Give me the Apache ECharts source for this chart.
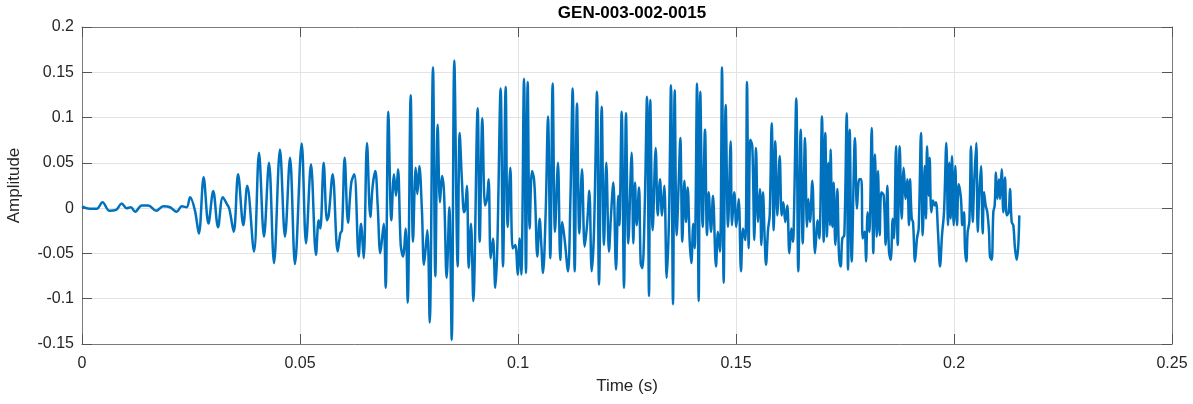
<!DOCTYPE html>
<html>
<head>
<meta charset="utf-8">
<script src="https://cdn.jsdelivr.net/npm/echarts@6/dist/echarts.min.js"></script>
<style>
html,body{margin:0;padding:0;background:#fff;}
#chart{width:1193px;height:404px;}
</style>
</head>
<body>
<div id="chart"></div>
<script>
const chartTitle = 'GEN-003-002-0015';
const xAxisLabel = 'Time (s)';
const yAxisLabel = 'Amplitude';
const xTicks = [0, 0.05, 0.1, 0.15, 0.2, 0.25];
const yTicks = [-0.15, -0.1, -0.05, 0, 0.05, 0.1, 0.15, 0.2];

const timeS = [
0,0.0018,0.0034,0.0047,0.0063,0.0078,0.0091,0.01025,0.0112,0.0122,0.0137,0.0152,0.0170,0.01865,0.0202,0.0217,0.0229,0.0240,0.0248,0.0259,0.0268,0.0279,0.0290,0.0301,0.0312,0.0323,0.0333,0.0338,0.0348,0.0358,
0.0370,0.0379,0.03945,0.0406,0.04174,0.04289,0.04404,0.04541,0.04656,0.04771,0.04885,0.05039,0.05138,0.05252,
0.05367,0.05428,0.05466,0.05543,0.05619,0.05658,0.0575,0.05864,0.05925,0.05963,0.06025,0.06101,0.06177,0.06246,0.06346,0.06399,0.0646,0.06537,0.06613,0.06667,0.06728,0.06782,0.06842,0.0692,
0.06965,0.07026,0.07095,0.07156,0.07202,0.07248,0.0731,0.07362,0.07424,0.0747,0.07539,0.07592,0.07653,0.07691,0.07737,0.07798,0.07844,0.0792,0.07975,0.0805,0.08104,0.08158,0.08211,0.08257,0.08303,0.08364,0.08425,0.0848,0.08539,
0.08616,0.08662,0.08716,0.08761,0.08784,0.0883,0.08869,0.08922,0.08975,0.09075,0.09121,0.09182,0.09243,0.09289,0.09327,0.09373,0.09427,0.09479,0.09525,0.09602,0.09656,0.09717,0.09763,0.09824,0.09878,0.09938,0.09993,0.10039,0.10076,0.10138,0.10183,0.10222,
0.10268,0.10321,0.10367,0.10398,0.10443,0.10497,0.10535,0.10573,0.10635,0.10688,0.10741,0.10795,0.10849,0.10917,0.1097,0.11016,0.11071,0.11147,0.112,0.11254,0.113,0.11353,0.11407,0.11468,0.11529,0.11583,0.11636,0.1169,0.11743,0.11812,0.11858,
0.1192,0.11972,0.12025,0.12087,0.12133,0.12186,0.12248,0.12301,0.12324,0.12378,0.12431,0.12477,0.1253,0.12607,0.12645,0.12683,0.12722,0.12775,0.12814,0.12851,0.12906,0.12959,0.13005,0.13034,0.13089,0.13158,0.13204,0.13257,0.13303,0.13356,0.1341,0.13463,0.13509,
0.13555,0.13594,0.1364,0.13686,0.13723,0.13769,0.13815,0.13853,0.13892,0.13938,0.13975,0.14021,0.14053,0.14106,0.14144,0.14181,0.14236,0.14289,0.14335,0.14374,0.14427,0.14472,0.14541,0.14587,0.14633,0.14679,0.14717,0.14763,0.14817,0.14878,0.14908,0.14961,0.15007,0.15062,0.15115,0.15161,
0.15214,0.15252,0.15291,0.15328,0.15374,0.1542,0.15459,0.15505,0.1555,0.15581,0.15619,0.15658,0.15688,0.15734,0.15773,0.15819,0.15865,0.15902,0.15947,0.16002,0.16048,0.16085,0.16131,0.16177,0.16223,0.16269,0.16307,0.1633,0.16383,0.16429,0.16484,0.1653,0.16583,0.16628,0.16659,0.16697,0.1675,0.16812,
0.16873,0.16911,0.16972,0.17011,0.17048,0.17087,0.17117,0.17156,0.17171,0.17209,0.1724,0.17278,0.17324,0.17362,0.17401,0.17438,0.17484,0.17539,0.17569,0.17608,0.17653,0.17729,0.17775,0.17828,0.17874,0.17906,0.17952,0.17982,0.1802,0.18058,0.18112,0.18149,0.18188,0.18227,0.18257,0.18296,0.18333,0.18388,0.18433,0.1847,
0.18509,0.18548,0.18594,0.18624,0.1867,0.18709,0.18755,0.188,0.18846,0.18892,0.18929,0.18968,0.18991,0.1903,0.1906,0.19106,0.19151,0.1919,0.19243,0.19282,0.19328,0.19358,0.19381,0.19419,0.19442,0.19479,0.19518,0.19557,0.19587,0.19633,0.19679,0.19725,0.19771,0.19824,0.19862,0.19892,0.19924,0.19954,0.19993,0.2003,0.20069,0.20108,
0.2016,0.20191,0.20229,0.20252,0.20283,0.20313,0.20352,0.2039,0.20429,0.20466,0.20511,0.20544,0.20581,0.2062,0.20658,0.20688,0.20727,0.20764,0.20803,0.20826,0.20865,0.20902,0.20933,0.20963,0.20993,0.21032,0.21055,0.21094,0.21131,0.2117,0.21209,0.21255,0.21284,0.21323,0.2136,0.21399,0.21438,0.21475,0.21498
];

const amplitude = [
0.002,-0.0007,-0.0007,0.0065,-0.003,-0.002,0.005,0.0,0.001,-0.004,0.003,0.003,-0.003,0.002,0.001,-0.004,0.002,0.001,0.012,-0.0025,-0.028,0.034,-0.017,0.019,-0.021,0.012,0.004,-0.001,-0.026,0.0375,
-0.0189,0.0247,-0.048,0.0611,-0.0316,0.0502,-0.0607,0.0647,-0.0316,0.0556,-0.0618,0.0713,-0.0389,0.0484,
-0.0516,-0.0135,-0.0225,0.0502,-0.0135,-0.008,0.0375,-0.048,-0.028,-0.0244,0.0556,-0.016,0.0284,0.0375,-0.0535,-0.0171,-0.0553,0.072,-0.0098,0.0247,0.0411,0.0029,-0.0498,-0.0171,
-0.088,0.1065,-0.0135,0.0375,0.0138,0.0429,-0.0407,-0.0535,-0.0225,-0.1044,0.1247,-0.0371,0.0447,0.0156,0.0465,-0.0044,-0.0625,-0.0244,-0.1262,0.1556,-0.0753,0.0920,0.0065,0.0356,0.0175,-0.0771,0.0011,-0.1455,0.163,
-0.0644,0.0829,0.0284,-0.0044,-0.0025,0.0247,-0.0662,-0.0171,-0.1025,0.1102,-0.0371,0.0993,0.0029,0.0102,0.032,-0.0553,-0.0335,-0.088,-0.0444,0.132,-0.0644,0.1338,-0.0207,0.0447,-0.0444,-0.0407,-0.0735,-0.0335,-0.0735,0.1429,-0.0716,0.1393,
-0.0225,0.0411,0.032,0.0029,-0.0535,-0.0116,-0.0407,-0.0716,-0.0044,0.1011,-0.0553,0.1375,-0.0262,0.0502,-0.0571,-0.0153,-0.0353,-0.0698,0.0047,0.132,-0.0698,0.1156,-0.028,0.0429,-0.0425,-0.0189,0.0193,-0.0698,-0.0262,0.1284,-0.0844,
0.112,-0.0407,0.0502,-0.048,-0.008,0.0284,-0.068,0.0138,-0.0189,0.1065,-0.088,0.1047,-0.0389,0.0611,-0.0389,0.0284,-0.0189,0.0229,-0.0607,-0.0662,-0.0007,0.1229,-0.0971,0.1193,-0.0244,0.0665,-0.008,0.032,-0.008,0.0247,-0.0771,-0.0116,0.1356,
-0.1062,0.1302,-0.0298,0.0284,0.0775,-0.0371,0.0302,-0.0153,0.0229,-0.0371,-0.0607,-0.0171,-0.0444,0.1375,-0.1025,0.1284,-0.0207,0.0865,-0.0298,0.0175,-0.0262,0.0138,-0.0644,-0.0262,-0.048,0.1556,-0.0825,0.1138,-0.0207,0.0738,-0.0189,0.0175,-0.0207,0.0102,-0.0698,-0.0225,
-0.0353,0.1393,-0.0444,0.0756,0.0684,-0.0353,0.0665,-0.0153,0.0211,-0.0407,0.0175,-0.0335,-0.0625,-0.0244,-0.008,0.0938,-0.0244,0.0738,-0.008,0.0575,-0.008,0.0065,-0.0153,0.0029,-0.0498,-0.0225,-0.0371,-0.008,0.1211,-0.0698,0.0865,-0.0389,0.0775,-0.0207,0.0102,-0.0153,0.0302,-0.0498,
-0.0135,-0.0335,0.1011,-0.0371,0.0829,-0.0316,0.0502,-0.0189,0.0647,-0.0207,0.0284,-0.0407,0.0211,-0.0516,-0.0644,-0.0335,-0.0298,0.1047,-0.068,0.0865,-0.0589,0.0775,-0.0007,0.032,0.032,-0.0335,-0.0262,-0.0589,-0.0044,-0.0262,0.0884,-0.0498,0.0593,-0.0316,0.0411,-0.0298,0.0175,0.0138,-0.0407,0.0247,
-0.048,-0.0571,-0.0116,-0.0335,0.0684,-0.0407,0.0684,-0.0116,0.0447,0.0102,0.032,-0.0189,0.032,-0.0116,-0.0153,-0.0589,-0.0335,-0.0225,0.0829,-0.0298,0.0465,-0.0116,0.0684,0.0138,0.0556,-0.0044,0.0084,0.0029,0.0065,-0.0262,-0.0644,-0.0298,-0.0044,0.072,-0.0189,0.0502,-0.0116,0.0575,-0.0189,0.0465,-0.0189,0.0265,
0.0102,-0.0189,-0.0044,-0.0444,-0.0589,-0.0262,-0.0153,0.0684,-0.0153,0.032,0.072,-0.0262,0.0175,0.0465,-0.028,0.0175,0.0029,-0.0044,-0.0262,-0.0535,-0.0571,-0.0044,0.0029,0.0393,0.0102,0.032,0.0102,0.0429,-0.0044,0.0338,-0.008,-0.0044,0.0211,-0.0153,-0.0189,-0.0444,-0.0571,-0.0407,-0.008
];

const seriesData = timeS.map((t, i) => [t, amplitude[i]]);

const fontFam = 'Liberation Sans, Arial, Helvetica, sans-serif';
const axisColor = '#262626';
const frameColor = '#7a7a7a';
const gridColor = '#e3e3e3';

function fmt(v) {
  const r = Math.round(v * 1000) / 1000;
  return String(r);
}

const chart = echarts.init(document.getElementById('chart'), null, {renderer: 'canvas'});
chart.setOption({
  animation: false,
  backgroundColor: '#ffffff',
  title: {
    text: chartTitle,
    left: 627,
    textAlign: 'center',
    top: 0,
    textStyle: {fontFamily: fontFam, fontSize: 17, fontWeight: 'bold', color: '#000'}
  },
  grid: {left: 82, right: 21, top: 27, bottom: 60, containLabel: false, outerBoundsMode: 'none'},
  xAxis: [
    {
      type: 'value', min: xTicks[0], max: xTicks[xTicks.length - 1], interval: 0.05,
      position: 'bottom',
      name: xAxisLabel, nameLocation: 'middle', nameGap: 34,
      nameTextStyle: {fontFamily: fontFam, fontSize: 17, color: axisColor},
      axisLine: {show: true, onZero: false, lineStyle: {color: frameColor, width: 1}},
      axisTick: {show: true, inside: true, length: 10, lineStyle: {color: '#555'}},
      axisLabel: {show: true, margin: 12, fontFamily: fontFam, fontSize: 16, color: axisColor, formatter: fmt},
      splitLine: {show: true, lineStyle: {color: gridColor, width: 1}}
    },
    {
      type: 'value', min: xTicks[0], max: xTicks[xTicks.length - 1], interval: 0.05,
      position: 'top',
      axisLine: {show: true, onZero: false, lineStyle: {color: frameColor, width: 1}},
      axisTick: {show: true, inside: true, length: 10, lineStyle: {color: '#555'}},
      axisLabel: {show: false},
      splitLine: {show: false}
    }
  ],
  yAxis: [
    {
      type: 'value', min: yTicks[0], max: yTicks[yTicks.length - 1], interval: 0.05,
      position: 'left',
      name: yAxisLabel, nameLocation: 'middle', nameGap: 59, nameRotate: 90,
      nameTextStyle: {fontFamily: fontFam, fontSize: 17, color: axisColor},
      axisLine: {show: true, onZero: false, lineStyle: {color: frameColor, width: 1}},
      axisTick: {show: true, inside: true, length: 10, lineStyle: {color: '#555'}},
      axisLabel: {show: true, margin: 8, fontFamily: fontFam, fontSize: 16, color: axisColor, formatter: fmt},
      splitLine: {show: true, lineStyle: {color: gridColor, width: 1}}
    },
    {
      type: 'value', min: yTicks[0], max: yTicks[yTicks.length - 1], interval: 0.05,
      position: 'right',
      axisLine: {show: true, onZero: false, lineStyle: {color: frameColor, width: 1}},
      axisTick: {show: true, inside: true, length: 10, lineStyle: {color: '#555'}},
      axisLabel: {show: false},
      splitLine: {show: false}
    }
  ],
  series: [{
    type: 'line',
    xAxisIndex: 0,
    yAxisIndex: 0,
    data: seriesData,
    showSymbol: false,
    symbol: 'none',
    smooth: 0.35,
    lineStyle: {color: '#0072BD', width: 2.5},
    itemStyle: {color: '#0072BD'}
  }]
});
</script>
</body>
</html>
